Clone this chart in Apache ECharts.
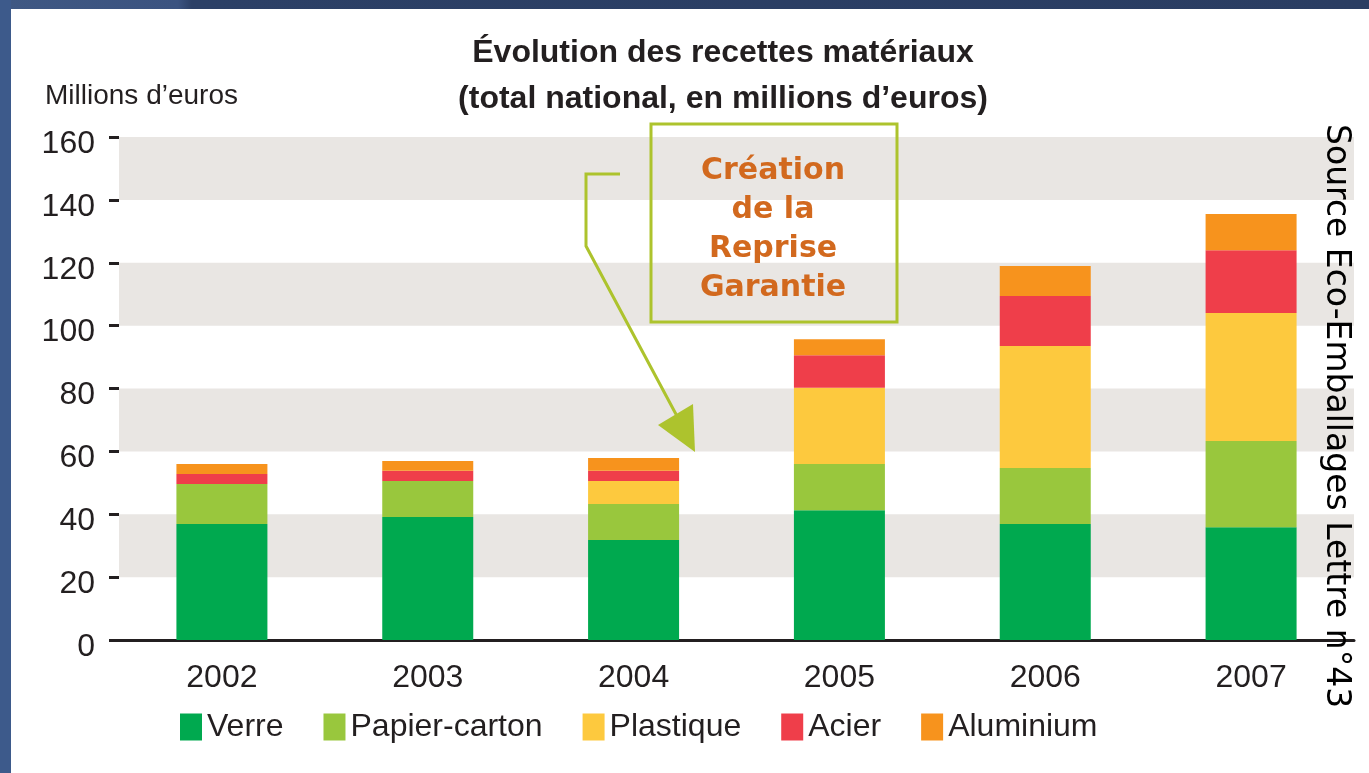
<!DOCTYPE html>
<html>
<head>
<meta charset="utf-8">
<script src="https://cdn.jsdelivr.net/npm/echarts@6/dist/echarts.min.js"></script>
<style>
    html, body { margin: 0; padding: 0; background: #fff; }
    #chart { width: 1369px; height: 773px; }
</style>
</head>
<body>
<div id="chart"></div>
<script>
const years = ['2002', '2003', '2004', '2005', '2006', '2007'];
const verre = [36.9, 39.1, 31.8, 41.3, 36.9, 35.9];
const papierCarton = [12.7, 11.5, 11.5, 14.7, 17.8, 27.4];
const plastique = [0, 0, 7.3, 24.2, 38.8, 40.7];
const acier = [3.2, 3.2, 3.2, 10.4, 15.9, 20.0];
const aluminium = [3.2, 3.1, 4.1, 5.1, 9.6, 11.5];
const yTicks = [0, 20, 40, 60, 80, 100, 120, 140, 160];

const sans = "'Liberation Sans', Arial, sans-serif";
const textColor = '#231f20';
const annotColor = '#adc32d';

const chart = echarts.init(document.getElementById('chart'));

function serie(name, data, color) {
    return {
        name: name,
        type: 'bar',
        stack: 'total',
        barWidth: 91,
        itemStyle: { color: color },
        data: data,
    };
}

const option = {
    backgroundColor: '#fff',
    animation: false,
    title: [
        {
            text: 'Évolution des recettes matériaux\n(total national, en millions d’euros)',
            left: 718,
            top: 25,
            textAlign: 'center',
            textStyle: {
                fontFamily: sans,
                fontWeight: 'bold',
                fontSize: 32,
                lineHeight: 46,
                color: textColor,
            },
        },
        {
            text: 'Millions d’euros',
            left: 40,
            top: 77,
            textStyle: {
                fontFamily: sans,
                fontWeight: 'normal',
                fontSize: 28,
                color: textColor,
            },
        },
    ],
    legend: {
        left: 180,
        top: 711,
        padding: 0,
        itemWidth: 22,
        itemHeight: 27,
        itemGap: 40,
        icon: 'rect',
        textStyle: { fontFamily: sans, fontSize: 32, color: textColor },
        data: ['Verre', 'Papier-carton', 'Plastique', 'Acier', 'Aluminium'],
    },
    grid: { left: 119, right: 15, top: 137, bottom: 133 },
    xAxis: {
        type: 'category',
        data: years,
        axisLine: { lineStyle: { color: textColor, width: 3 } },
        axisTick: { show: false },
        axisLabel: { margin: 22, fontFamily: sans, fontSize: 32, color: textColor },
    },
    yAxis: {
        type: 'value',
        min: yTicks[0],
        max: yTicks[yTicks.length - 1],
        interval: 20,
        axisLine: { show: false },
        axisTick: { show: true, length: 10, lineStyle: { color: textColor, width: 3 } },
        axisLabel: {
            margin: 24,
            fontFamily: sans,
            fontSize: 32,
            color: textColor,
            verticalAlign: 'top',
            lineHeight: 14,
        },
        splitLine: { show: false },
        splitArea: { show: true, areaStyle: { color: ['rgba(255,255,255,0)', '#e9e6e3'] } },
    },
    series: [
        serie('Verre', verre, '#00a94f'),
        serie('Papier-carton', papierCarton, '#99c73d'),
        serie('Plastique', plastique, '#fdc93e'),
        serie('Acier', acier, '#ef3e4a'),
        serie('Aluminium', aluminium, '#f7931d'),
    ],
    graphic: [
        // cadre de la diapo
        {
            type: 'rect', left: 0, top: 0, z: 100,
            shape: { width: 1369, height: 9 },
            style: {
                fill: new echarts.graphic.LinearGradient(0, 0, 1, 0, [
                    { offset: 0, color: '#3f5883' },
                    { offset: 0.13, color: '#3b5380' },
                    { offset: 0.14, color: '#2c4066' },
                    { offset: 1, color: '#2a3d62' },
                ]),
            },
        },
        {
            type: 'rect', left: 0, top: 0, z: 100,
            shape: { width: 11, height: 773 },
            style: { fill: '#3d5a8b' },
        },
        // annotation
        {
            type: 'rect', z: 50,
            shape: { x: 651, y: 124, width: 246, height: 198 },
            style: { fill: 'rgba(0,0,0,0)', stroke: annotColor, lineWidth: 3 },
        },
        {
            type: 'text', z: 51,
            x: 773, y: 152,
            style: {
                text: 'Création\nde la\nReprise\nGarantie',
                align: 'center',
                font: 'bold 30px "DejaVu Sans", Verdana, sans-serif',
                lineHeight: 39,
                fill: '#d2691e',
            },
        },
        {
            type: 'polyline', z: 50,
            shape: { points: [[620, 174], [586, 174], [586, 246], [678, 418]] },
            style: { stroke: annotColor, lineWidth: 3, fill: null },
        },
        {
            type: 'polygon', z: 50,
            shape: { points: [[658, 425], [693, 404], [695, 452]] },
            style: { fill: annotColor },
        },
        // source
        {
            type: 'text', z: 60,
            x: 1336, y: 124,
            rotation: -Math.PI / 2,
            style: {
                text: 'Source Eco-Emballages Lettre n°43',
                font: '33px "DejaVu Sans", sans-serif',
                fill: '#000',
                align: 'left',
                verticalAlign: 'middle',
            },
        },
    ],
};

chart.setOption(option);
</script>
</body>
</html>
